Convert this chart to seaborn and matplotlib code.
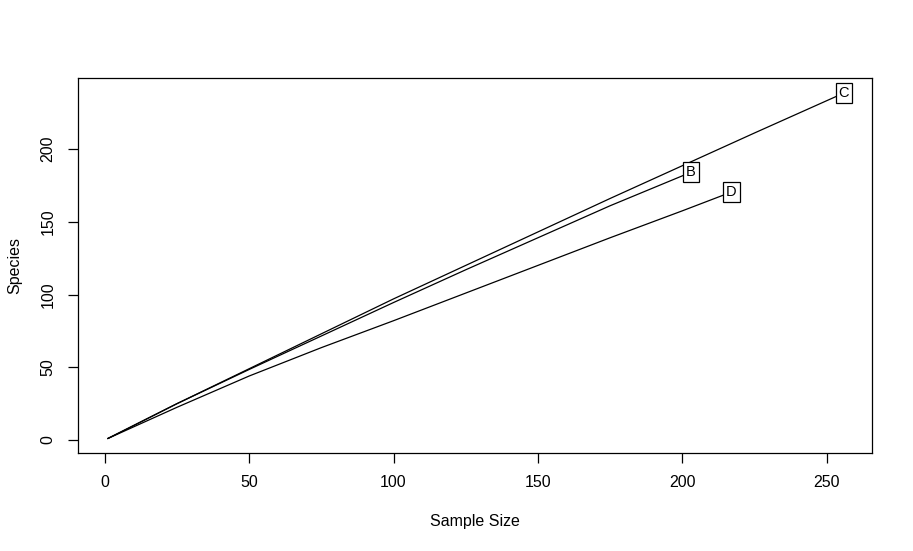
import pandas as pd
import numpy as np
import matplotlib.pyplot as plt
import seaborn as sns

# rarefaction curves
size_c = [1, 25, 50, 75, 100, 125, 150, 175, 200, 225, 256]
species_c = [1, 25, 49, 73, 97, 120, 143, 166, 188.5, 211, 238.5]
size_b = [1, 25, 50, 75, 100, 125, 150, 175, 203]
species_b = [1, 25, 48.5, 71.5, 94.5, 117, 139, 161, 184]
size_d = [1, 25, 50, 75, 100, 125, 150, 175, 200, 217]
species_d = [1, 22.5, 44, 63.5, 82, 101, 120, 139, 157.5, 170.4]
site_names = ["C", "B", "D"]

df = pd.concat([
    pd.DataFrame({"size": size_c, "species": species_c, "site": "C"}),
    pd.DataFrame({"size": size_b, "species": species_b, "site": "B"}),
    pd.DataFrame({"size": size_d, "species": species_d, "site": "D"}),
])

sns.set_style("ticks")
plt.rcParams['font.family'] = ['Liberation Sans', 'DejaVu Sans']
plt.rcParams['text.color'] = 'black'
plt.rcParams['axes.labelcolor'] = 'black'
plt.rcParams['xtick.color'] = 'black'
plt.rcParams['ytick.color'] = 'black'

fig = plt.figure(figsize=(9.13, 5.51), dpi=100)
ax = fig.add_axes([0.0854, 0.1779, 0.8696, 0.6805])

sns.lineplot(data=df, x="size", y="species", hue="site", sort=False,
             palette={"C": "black", "B": "black", "D": "black"},
             linewidth=0.9, legend=False, ax=ax, estimator=None)

# labels at curve ends
for name in site_names:
    part = df[df["site"] == name]
    ax.text(part["size"].iloc[-1], part["species"].iloc[-1], name,
            ha="center", va="center", fontsize=10.5,
            bbox=dict(boxstyle="square,pad=0.2", fc="white", ec="black", lw=0.9))

ax.set_xlim(-9.3, 265.7)
ax.set_ylim(-8.9, 248.8)
ax.set_xticks([0, 50, 100, 150, 200, 250])
ax.set_yticks([0, 50, 100, 150, 200])
ax.set_yticklabels(["0", "50", "100", "150", "200"], rotation=90, va="center")
ax.tick_params(length=7, width=0.9, labelsize=11.5, pad=9)
for s in ax.spines.values():
    s.set_visible(True)
    s.set_linewidth(0.9)
    s.set_color("black")
ax.set_xlabel("Sample Size", fontsize=11.5, labelpad=17)
ax.set_ylabel("Species", fontsize=11.5, labelpad=13)

fig.savefig("out.png", dpi=100)
